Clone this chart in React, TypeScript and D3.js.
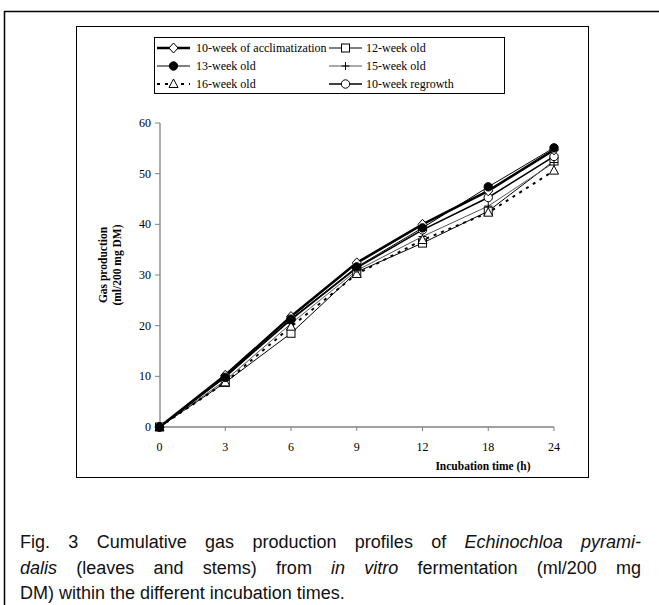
import React, { useLayoutEffect, useRef, useState } from "react";
import * as d3 from "d3";

const hours = ["0", "3", "6", "9", "12", "18", "24"];
const yTicks = [0, 10, 20, 30, 40, 50, 60];

const acclim10 = [0, 10.2, 21.8, 32.4, 40.0, 46.6, 54.7];
const old12 = [0, 8.8, 18.5, 30.6, 36.3, 42.6, 52.5];
const old13 = [0, 9.8, 21.3, 31.6, 39.3, 47.4, 55.1];
const old15 = [0, 9.2, 20.4, 30.9, 37.6, 43.6, 52.2];
const old16 = [0, 8.8, 19.8, 30.2, 36.9, 42.3, 50.6];
const regrowth10 = [0, 9.9, 21.2, 31.4, 38.9, 45.3, 53.4];

type Marker = "diamond" | "square" | "fcircle" | "plus" | "triangle" | "circle";
type Series = { name: string; values: number[]; width: number; color: string; dash?: string; marker: Marker };

const series: Series[] = [
  { name: "12-week old", values: old12, width: 1, color: "#000", marker: "square" },
  { name: "15-week old", values: old15, width: 1, color: "#555", marker: "plus" },
  { name: "16-week old", values: old16, width: 2, color: "#000", dash: "3,5", marker: "triangle" },
  { name: "10-week regrowth", values: regrowth10, width: 1.6, color: "#000", marker: "circle" },
  { name: "10-week of acclimatization", values: acclim10, width: 2.6, color: "#000", marker: "diamond" },
  { name: "13-week old", values: old13, width: 1, color: "#000", marker: "fcircle" },
];

const legendOrder = [
  "10-week of acclimatization", "12-week old",
  "13-week old", "15-week old",
  "16-week old", "10-week regrowth",
];

const captionLines: { words: { t: string; i?: boolean }[]; justify: boolean }[] = [
  { words: [{ t: "Fig." }, { t: "3" }, { t: "Cumulative" }, { t: "gas" }, { t: "production" }, { t: "profiles" }, { t: "of" }, { t: "Echinochloa", i: true }, { t: "pyrami-", i: true }], justify: true },
  { words: [{ t: "dalis", i: true }, { t: "(leaves" }, { t: "and" }, { t: "stems)" }, { t: "from" }, { t: "in", i: true }, { t: "vitro", i: true }, { t: "fermentation" }, { t: "(ml/200" }, { t: "mg" }], justify: true },
  { words: [{ t: "DM)" }, { t: "within" }, { t: "the" }, { t: "different" }, { t: "incubation" }, { t: "times." }], justify: false },
];

function MarkerShape({ type, x, y }: { type: Marker; x: number; y: number }) {
  const s = 4;
  switch (type) {
    case "diamond":
      return <path d={`M${x},${y - 5}L${x + 4.5},${y}L${x},${y + 5}L${x - 4.5},${y}Z`} fill="#fff" stroke="#000" strokeWidth={1} />;
    case "square":
      return <rect x={x - s} y={y - s} width={2 * s} height={2 * s} fill="#fff" stroke="#000" strokeWidth={1} />;
    case "fcircle":
      return <circle cx={x} cy={y} r={4.2} fill="#000" stroke="#000" />;
    case "plus":
      return <path d={`M${x - 4},${y}H${x + 4}M${x},${y - 4}V${y + 4}`} stroke="#000" strokeWidth={1} />;
    case "triangle":
      return <path d={`M${x},${y - 5}L${x + 4.5},${y + 3.5}L${x - 4.5},${y + 3.5}Z`} fill="#fff" stroke="#000" strokeWidth={1} />;
    case "circle":
      return <circle cx={x} cy={y} r={4.2} fill="#fff" stroke="#000" strokeWidth={1} />;
  }
}

function CaptionLine({ words, justify, y, left, right, size, font }: { words: { t: string; i?: boolean }[]; justify: boolean; y: number; left: number; right: number; size: number; font: string }) {
  const ref = useRef<SVGTextElement>(null);
  const [ws, setWs] = useState(0);
  useLayoutEffect(() => {
    if (!justify || !ref.current) return;
    const w = ref.current.getComputedTextLength();
    const gaps = words.length - 1;
    setWs((right - left - w) / gaps);
  }, []);
  return (
    <text ref={ref} x={left} y={y} fontFamily={font} fontSize={size} fill="#111" wordSpacing={justify ? ws : 0} style={{ whiteSpace: "pre" }}>
      {words.map((w, i) => (
        <tspan key={i} fontStyle={w.i ? "italic" : "normal"}>{(i > 0 ? " " : "") + w.t}</tspan>
      ))}
    </text>
  );
}

export default function App() {
  const x = d3.scalePoint<string>().domain(hours).range([159.5, 554]);
  const y = d3.scaleLinear().domain([0, 60]).range([427, 123]);
  const line = d3.line<number>().x((_, i) => x(hours[i])!).y((d) => y(d));

  const tf = "'Liberation Serif', 'Times New Roman', serif";
  const sf = "'Liberation Sans Narrow', 'Arial Narrow', 'Liberation Sans', Arial, sans-serif";
  const baselines = [548, 574, 599];

  const legendRows = [48, 66, 84];
  const legendCols = [{ l1: 157, l2: 190, m: 173.5, t: 196 }, { l1: 329, l2: 362, m: 345.5, t: 366 }];

  return (
    <svg width={659} height={605} style={{ position: "absolute", left: 0, top: 0 }} fontFamily={tf}>
      <rect x={0} y={0} width={659} height={605} fill="#fff" />
      <path d="M4.5,612V11.5H670" fill="none" stroke="#000" strokeWidth={1.5} />
      <rect x={76.5} y={26.5} width={512} height={451} fill="none" stroke="#000" strokeWidth={1} />

      <line x1={160} x2={160} y1={y(60)} y2={y(0)} stroke="#808080" strokeWidth={1.3} />
      <line x1={160} x2={554} y1={y(0)} y2={y(0)} stroke="#808080" strokeWidth={1.3} />
      {yTicks.map((t) => (
        <g key={t}>
          <line x1={155} x2={160} y1={y(t)} y2={y(t)} stroke="#808080" strokeWidth={1} />
          <text x={151} y={y(t) + 4} textAnchor="end" fontSize={12}>{t}</text>
        </g>
      ))}
      {hours.map((h) => (
        <g key={h}>
          {h !== "0" && <line x1={x(h)!} x2={x(h)!} y1={y(0)} y2={y(0) + 4} stroke="#808080" strokeWidth={1} />}
          <text x={x(h)!} y={451} textAnchor="middle" fontSize={12}>{h}</text>
        </g>
      ))}
      <text x={483} y={470} textAnchor="middle" fontSize={11.5} fontWeight="bold">Incubation time (h)</text>
      <g transform="translate(107,265) rotate(-90)">
        <text x={0} y={0} textAnchor="middle" fontSize={11.5} fontWeight="bold">Gas production</text>
        <text x={0} y={14} textAnchor="middle" fontSize={11.5} fontWeight="bold">(ml/200 mg DM)</text>
      </g>

      {series.map((s) => (
        <path key={s.name} d={line(s.values)!} fill="none" stroke={s.color} strokeWidth={s.width} strokeDasharray={s.dash} />
      ))}
      {series.map((s) => (
        <g key={s.name + "m"}>
          {s.values.map((v, i) => (
            <MarkerShape key={i} type={s.marker} x={x(hours[i])!} y={y(v)} />
          ))}
        </g>
      ))}

      <rect x={154.5} y={37.5} width={350} height={56} fill="#fff" stroke="#000" strokeWidth={1} />
      {legendOrder.map((name, k) => {
        const s = series.find((q) => q.name === name)!;
        const c = legendCols[k % 2];
        const ry = legendRows[Math.floor(k / 2)];
        return (
          <g key={name}>
            <line x1={c.l1} x2={c.l2} y1={ry} y2={ry} stroke={s.color} strokeWidth={s.width} strokeDasharray={s.dash} />
            <MarkerShape type={s.marker} x={c.m} y={ry} />
            <text x={c.t} y={ry + 4} fontSize={12}>{name}</text>
          </g>
        );
      })}

      {captionLines.map((ln, li) => (
        <CaptionLine key={li} words={ln.words} justify={ln.justify} y={baselines[li]} left={20} right={641} size={18} font={sf} />
      ))}
    </svg>
  );
}
